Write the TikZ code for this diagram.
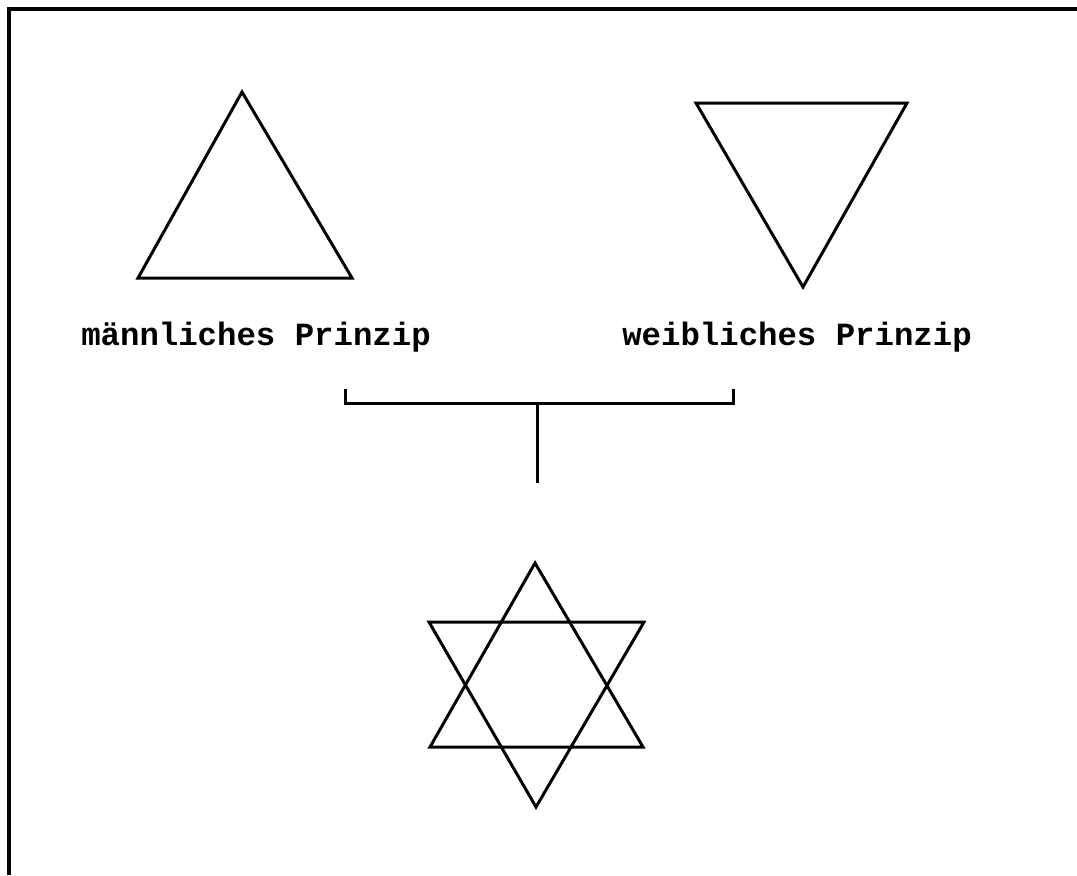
\documentclass[tikz,border=0pt]{standalone}
\usepackage{fontspec}
\newfontfamily\schreibmaschine{Liberation Mono}
\begin{document}
\begin{tikzpicture}[x=0.01cm, y=-0.01cm, line width=0.85pt,
  every node/.style={font=\schreibmaschine\bfseries\fontsize{9.2}{11}\selectfont, inner sep=0pt}]
  \useasboundingbox (0,0) rectangle (1077,875);

  % Rahmen (links und oben)
  \draw[line width=1.2pt] (9,875) -- (9,9) -- (1077,9);

  % Dreiecke
  \draw (242,92) -- (352,278) -- (138,278) -- cycle;
  \draw (696,103) -- (907,103) -- (803,287) -- cycle;

  % Beschriftungen
  \node[anchor=base] (maennlich) at (256,345) {männliches Prinzip};
  \node[anchor=base] (weiblich) at (797,345) {weibliches Prinzip};

  % Klammer
  \coordinate (kl) at (345,389);
  \coordinate (kr) at (733,389);
  \coordinate (km) at (537,403);
  \coordinate (ku) at (537,483);
  \draw (kl) |- (km) -| (kr);
  \draw (km) -- (ku);

  % Hexagramm
  \draw (535,563) -- (643,747) -- (430,747) -- cycle;
  \draw (429,622) -- (644,622) -- (536,807) -- cycle;
\end{tikzpicture}
\end{document}
